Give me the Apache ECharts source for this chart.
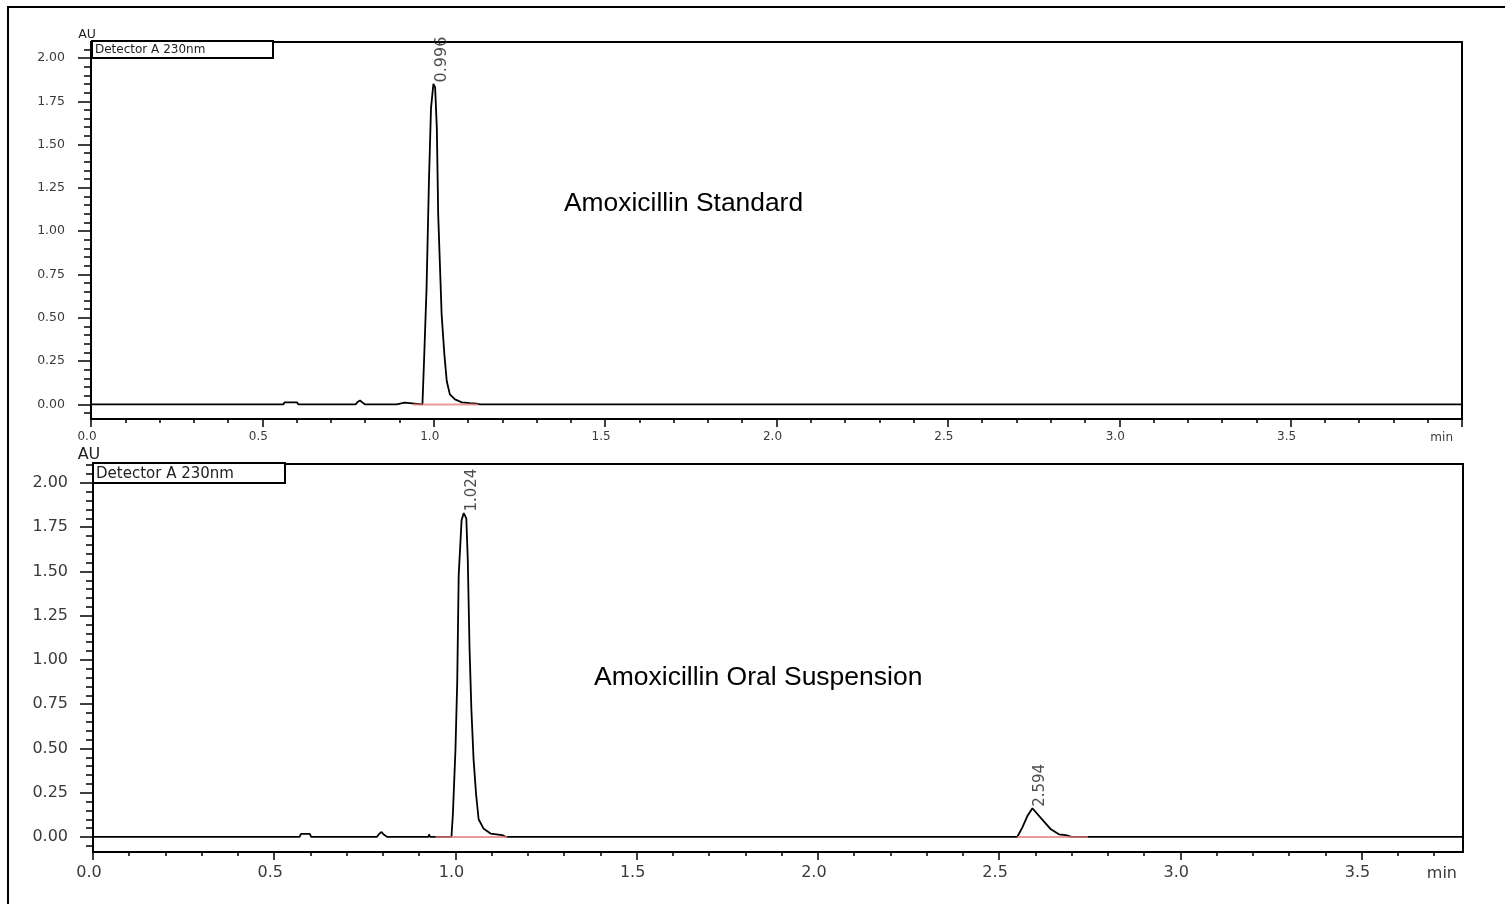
<!DOCTYPE html>
<html><head><meta charset="utf-8">
<script src="https://cdn.jsdelivr.net/npm/echarts@6/dist/echarts.min.js"></script>
<style>html,body{margin:0;padding:0;background:#fff}#c{width:1505px;height:904px}</style>
</head><body><div id="c"></div>
<script>
// ---- Data ----
const topTime = [0, 0.561, 0.565, 0.601, 0.605, 0.772, 0.778, 0.785, 0.791, 0.800, 0.892, 0.896, 0.915, 0.919,
  0.967, 0.972, 0.979, 0.986, 0.992, 0.999, 1.004, 1.009, 1.013, 1.018, 1.023, 1.031, 1.038, 1.047, 1.062, 1.082, 1.105, 1.125, 1.135, 4.0];
const topAU = [0, 0, 0.012, 0.012, 0, 0, 0.014, 0.023, 0.012, 0, 0, 0.010, 0.010, 0,
  0, 0.27, 0.67, 1.29, 1.71, 1.85, 1.83, 1.595, 1.095, 0.807, 0.519, 0.288, 0.134, 0.058, 0.029, 0.012, 0.008, 0.005, 0, 0];
const botTime = [0, 0.570, 0.574, 0.598, 0.602, 0.783, 0.790, 0.796, 0.803, 0.812, 0.926, 0.927, 0.929, 0.930,
  0.989, 0.993, 1.000, 1.005, 1.009, 1.017, 1.023, 1.030, 1.034, 1.039, 1.044, 1.050, 1.057, 1.064, 1.078, 1.097, 1.129, 1.140,
  2.550, 2.564, 2.578, 2.592, 2.615, 2.643, 2.665, 2.684, 2.700, 3.78];
const botAU = [0, 0, 0.017, 0.017, 0, 0, 0.018, 0.028, 0.012, 0, 0, 0.015, 0.015, 0,
  0, 0.13, 0.49, 0.88, 1.48, 1.79, 1.83, 1.80, 1.57, 1.06, 0.72, 0.44, 0.24, 0.10, 0.046, 0.019, 0.01, 0,
  0, 0.053, 0.118, 0.162, 0.108, 0.043, 0.015, 0.01, 0, 0];

const topPeakTime = [0.999];
const topPeakAU = [1.85];
const topPeakLabels = ['0.996'];
const botPeakTime = [1.023, 2.592];
const botPeakAU = [1.83, 0.162];
const botPeakLabels = ['1.024', '2.594'];

const topBaseStart = [0.940];
const topBaseEnd = [1.130];
const botBaseStart = [0.945, 2.550];
const botBaseEnd = [1.143, 2.745];

const yTickValues = [0, 0.25, 0.5, 0.75, 1.0, 1.25, 1.5, 1.75, 2.0];
const xTickTop = [0, 0.5, 1.0, 1.5, 2.0, 2.5, 3.0, 3.5, 4.0];
const xTickBot = [0, 0.5, 1.0, 1.5, 2.0, 2.5, 3.0, 3.5];

const titleTop = 'Amoxicillin Standard';
const titleBot = 'Amoxicillin Oral Suspension';
const detectorText = 'Detector A 230nm';

// ---- helpers ----
const zip = (a, b) => a.map((v, i) => [v, b[i]]);
const LBL = '#3a3a3a';
const FF = 'DejaVu Sans';

function xAxisCfg(grid, max, ticks, fs, gap, lblMargin) {
  return {
    type: 'value', gridIndex: grid, min: 0, max: max, interval: 0.5,
    axisLine: { show: true, onZero: false, lineStyle: { color: '#000', width: 2 } },
    axisTick: { show: true, length: 8, customValues: ticks, lineStyle: { color: '#000', width: 1.5 } },
    minorTick: { show: true, splitNumber: 5, length: 4, lineStyle: { color: '#000', width: 1.5 } },
    axisLabel: { customValues: ticks.filter(v => v < 3.9), color: LBL, fontSize: fs, fontFamily: FF, margin: lblMargin,
      padding: [0, 8, 0, 0], formatter: v => v.toFixed(1) },
    splitLine: { show: false },
    name: 'min', nameLocation: 'end', nameGap: gap,
    nameTextStyle: { color: LBL, fontSize: fs, fontFamily: FF, align: 'right', verticalAlign: 'top', padding: [lblMargin + 1, 0, 0, 0] }
  };
}
function yAxisCfg(grid, min, max, fs, margin) {
  return {
    type: 'value', gridIndex: grid, min: min, max: max, splitNumber: 4,
    axisLine: { show: true, onZero: false, lineStyle: { color: '#000', width: 2 } },
    axisTick: { show: true, length: 13, customValues: yTickValues, lineStyle: { color: '#000', width: 1.5 } },
    minorTick: { show: true, splitNumber: 10, length: 7, lineStyle: { color: '#000', width: 1.5 } },
    axisLabel: { customValues: yTickValues, color: LBL, fontSize: fs, fontFamily: FF, margin: margin, formatter: v => v.toFixed(2) },
    splitLine: { show: false },
    name: 'AU', nameLocation: 'end', nameGap: 1,
    nameTextStyle: { color: '#222', fontSize: fs, fontFamily: FF, align: 'center', padding: [0, 8, 0, 0] }
  };
}
function trace(xi, t, v) {
  return { type: 'line', xAxisIndex: xi, yAxisIndex: xi, data: zip(t, v), showSymbol: false, symbol: 'none',
    lineStyle: { color: '#000', width: 1.8 }, z: 3, silent: true, animation: false };
}
function baseLines(xi, s, e) {
  return s.map((t0, i) => ({ type: 'line', xAxisIndex: xi, yAxisIndex: xi, data: [[t0, 0], [e[i], 0]], showSymbol: false, symbol: 'none',
    lineStyle: { color: 'rgba(230,120,120,0.75)', width: 2 }, z: 4, silent: true, animation: false }));
}
function peakLabels(xi, t, v, labels, fs) {
  return { type: 'scatter', xAxisIndex: xi, yAxisIndex: xi, data: zip(t, v), symbolSize: 1, silent: true, animation: false,
    itemStyle: { color: 'rgba(0,0,0,0)' }, z: 5,
    label: { show: true, position: [1, -1], rotate: 90, align: 'left', verticalAlign: 'top',
      formatter: p => labels[p.dataIndex], fontSize: fs, fontFamily: FF, color: '#222' } };
}

const chart = echarts.init(document.getElementById('c'), null, { renderer: 'canvas' });
chart.setOption({
  animation: false,
  backgroundColor: '#fff',
  grid: [
    { left: 91, right: 43, top: 42, height: 377, show: true, borderColor: '#000', borderWidth: 2, backgroundColor: 'transparent' },
    { left: 93, right: 42, top: 464, height: 388, show: true, borderColor: '#000', borderWidth: 2, backgroundColor: 'transparent' }
  ],
  xAxis: [ xAxisCfg(0, 4.0, xTickTop, 12, -9, 12), xAxisCfg(1, 3.78, xTickBot, 16, -6, 13) ],
  yAxis: [ yAxisCfg(0, -0.084, 2.092, 12.5, 26), yAxisCfg(1, -0.085, 2.107, 16, 25) ],
  series: [
    trace(0, topTime, topAU),
    trace(1, botTime, botAU),
    ...baseLines(0, topBaseStart, topBaseEnd),
    ...baseLines(1, botBaseStart, botBaseEnd),
    peakLabels(0, topPeakTime, topPeakAU, topPeakLabels, 16),
    peakLabels(1, botPeakTime, botPeakAU, botPeakLabels, 15)
  ],
  graphic: [
    { type: 'rect', silent: true, shape: { x: 8, y: 7, width: 1600, height: 1000 }, style: { fill: null, stroke: '#000', lineWidth: 2 } },
    { type: 'rect', silent: true, z: 10, shape: { x: 92, y: 41, width: 181, height: 17 }, style: { fill: '#fff', stroke: '#000', lineWidth: 2 } },
    { type: 'text', silent: true, z: 11, x: 95, y: 50, style: { text: detectorText, font: '12px "DejaVu Sans"', fill: '#222', verticalAlign: 'middle' } },
    { type: 'rect', silent: true, z: 10, shape: { x: 93, y: 463, width: 192, height: 20 }, style: { fill: '#fff', stroke: '#000', lineWidth: 2 } },
    { type: 'text', silent: true, z: 11, x: 96, y: 474, style: { text: detectorText, font: '15px "DejaVu Sans"', fill: '#222', verticalAlign: 'middle' } },
    { type: 'text', silent: true, z: 11, x: 564, y: 204, style: { text: titleTop, font: '26.4px "Liberation Sans", Arial', fill: '#000', verticalAlign: 'middle' } },
    { type: 'text', silent: true, z: 11, x: 594, y: 678, style: { text: titleBot, font: '26.5px "Liberation Sans", Arial', fill: '#000', verticalAlign: 'middle' } }
  ]
});
</script></body></html>
